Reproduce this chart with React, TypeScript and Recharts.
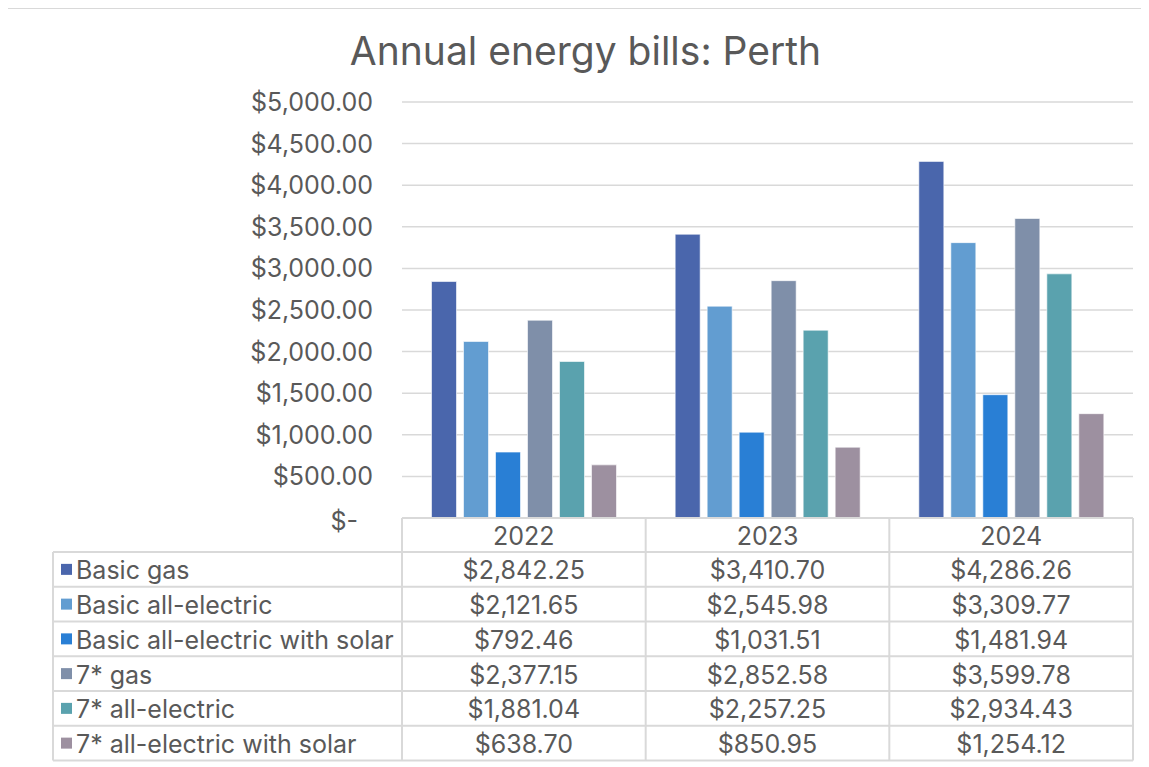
import React from 'react';
import { BarChart, Bar, XAxis, YAxis, CartesianGrid } from 'recharts';

const years = ['2022', '2023', '2024'];
const seriesNames = [
  'Basic gas',
  'Basic all-electric',
  'Basic all-electric with solar',
  '7* gas',
  '7* all-electric',
  '7* all-electric with solar',
];
const basicGas = [2842.25, 3410.7, 4286.26];
const basicAllElectric = [2121.65, 2545.98, 3309.77];
const basicAllElectricSolar = [792.46, 1031.51, 1481.94];
const star7Gas = [2377.15, 2852.58, 3599.78];
const star7AllElectric = [1881.04, 2257.25, 2934.43];
const star7AllElectricSolar = [638.7, 850.95, 1254.12];
const yTicks = [0, 500, 1000, 1500, 2000, 2500, 3000, 3500, 4000, 4500, 5000];

const seriesValues = [
  basicGas,
  basicAllElectric,
  basicAllElectricSolar,
  star7Gas,
  star7AllElectric,
  star7AllElectricSolar,
];
const colors = ['#4A66AC', '#629DD1', '#297FD5', '#7F8FA9', '#5AA2AE', '#9D90A0'];

const data = years.map((y, i) => {
  const row: Record<string, any> = { year: y };
  seriesNames.forEach((n, s) => {
    row['s' + s] = seriesValues[s][i];
  });
  return row;
});

const FONT = 'Inter, "Noto Sans", sans-serif';
const TEXT = '#595959';
const GRID = '#d9d9d9';
const FS = 25;

const money = (v: number) =>
  '$' + v.toLocaleString('en-US', { minimumFractionDigits: 2, maximumFractionDigits: 2 });

const YTick = (props: any) => {
  const { x, y, payload } = props;
  const v = payload.value as number;
  const label = v === 0 ? '$-' : money(v);
  return (
    <text
      x={x - (v === 0 ? 44 : 29)}
      y={y + (v === 0 ? 3 : 0)}
      textAnchor="end"
      dominantBaseline="central"
      fill={TEXT}
      fontSize={FS}
      fontFamily={FONT}
    >
      {label}
    </text>
  );
};

// layout in container coordinates
const W = 1141;
const CH = 570;
const PLOT_L = 394;
const PLOT_R = 1125;
const PLOT_T = 94;
const PLOT_B = 510;
const TABLE_L = 45;
const HEADER_H = 34;
const ROW_H = 34.75;

export default function App() {
  const colW = (PLOT_R - PLOT_L) / years.length;
  const tableBottom = PLOT_B + HEADER_H + ROW_H * seriesNames.length;
  return (
    <div style={{ position: 'relative', width: W, height: 760, fontFamily: FONT }}>
      <div
        style={{
          position: 'absolute',
          left: -1,
          top: 0,
          width: W + 20,
          height: 780,
          borderLeft: '1px solid #d9d9d9',
          borderTop: '1px solid #d9d9d9',
        }}
      />
      <div
        style={{
          position: 'absolute',
          left: 0,
          top: 21,
          width: 1155,
          textAlign: 'center',
          fontSize: 39,
          color: TEXT,
          fontFamily: FONT,
          lineHeight: '44px',
        }}
      >
        Annual energy bills: Perth
      </div>
      <div style={{ position: 'absolute', left: 0, top: 0 }}>
        <BarChart
          width={W}
          height={CH}
          data={data}
          margin={{ top: PLOT_T, right: W - PLOT_R, bottom: CH - PLOT_B, left: 0 }}
          barCategoryGap={29.5}
          barGap={7}
        >
          <CartesianGrid vertical={false} stroke={GRID} strokeWidth={1.5} />
          <XAxis dataKey="year" hide />
          <YAxis
            width={PLOT_L}
            domain={[0, 5000]}
            ticks={yTicks}
            interval={0}
            axisLine={false}
            tickLine={false}
            tickSize={0}
            tickMargin={0}
            tick={<YTick />}
          />
          {seriesNames.map((n, s) => (
            <Bar
              key={n}
              dataKey={'s' + s}
              name={n}
              fill={colors[s]}
              stroke="#ffffff"
              strokeWidth={0.6}
              isAnimationActive={false}
            />
          ))}
        </BarChart>
      </div>
      <svg
        style={{ position: 'absolute', left: 0, top: 0, pointerEvents: 'none' }}
        width={W}
        height={760}
        fontFamily={FONT}
      >
        <line x1={PLOT_L} x2={PLOT_R} y1={PLOT_B} y2={PLOT_B} stroke={GRID} strokeWidth={2} />
        {years.map((y, i) => (
          <text
            key={y}
            x={PLOT_L + colW * (i + 0.5)}
            y={PLOT_B + HEADER_H / 2 + 1}
            textAnchor="middle"
            dominantBaseline="central"
            fontSize={FS}
            fill={TEXT}
          >
            {y}
          </text>
        ))}
        {seriesNames.map((n, s) => {
          const yTop = PLOT_B + HEADER_H + ROW_H * s;
          return (
            <line key={'h' + s} x1={TABLE_L} x2={PLOT_R} y1={yTop} y2={yTop} stroke={GRID} strokeWidth={2} />
          );
        })}
        <line x1={TABLE_L} x2={PLOT_R} y1={tableBottom} y2={tableBottom} stroke={GRID} strokeWidth={2} />
        <line x1={TABLE_L} x2={TABLE_L} y1={PLOT_B + HEADER_H} y2={tableBottom} stroke={GRID} strokeWidth={2} />
        {[0, 1, 2, 3].map((k) => (
          <line
            key={'v' + k}
            x1={PLOT_L + colW * k}
            x2={PLOT_L + colW * k}
            y1={PLOT_B}
            y2={tableBottom}
            stroke={GRID}
            strokeWidth={2}
          />
        ))}
        {seriesNames.map((n, s) => {
          const cy = PLOT_B + HEADER_H + ROW_H * (s + 0.5);
          return (
            <g key={'r' + s}>
              <rect x={TABLE_L + 8} y={cy - 5.5} width={11} height={11} fill={colors[s]} />
              <text x={TABLE_L + 23} y={cy + 1} dominantBaseline="central" fontSize={FS} fill={TEXT}>
                {n}
              </text>
              {years.map((y, i) => (
                <text
                  key={y}
                  x={PLOT_L + colW * (i + 0.5)}
                  y={cy + 1}
                  textAnchor="middle"
                  dominantBaseline="central"
                  fontSize={FS}
                  fill={TEXT}
                >
                  {money(seriesValues[s][i])}
                </text>
              ))}
            </g>
          );
        })}
      </svg>
    </div>
  );
}
